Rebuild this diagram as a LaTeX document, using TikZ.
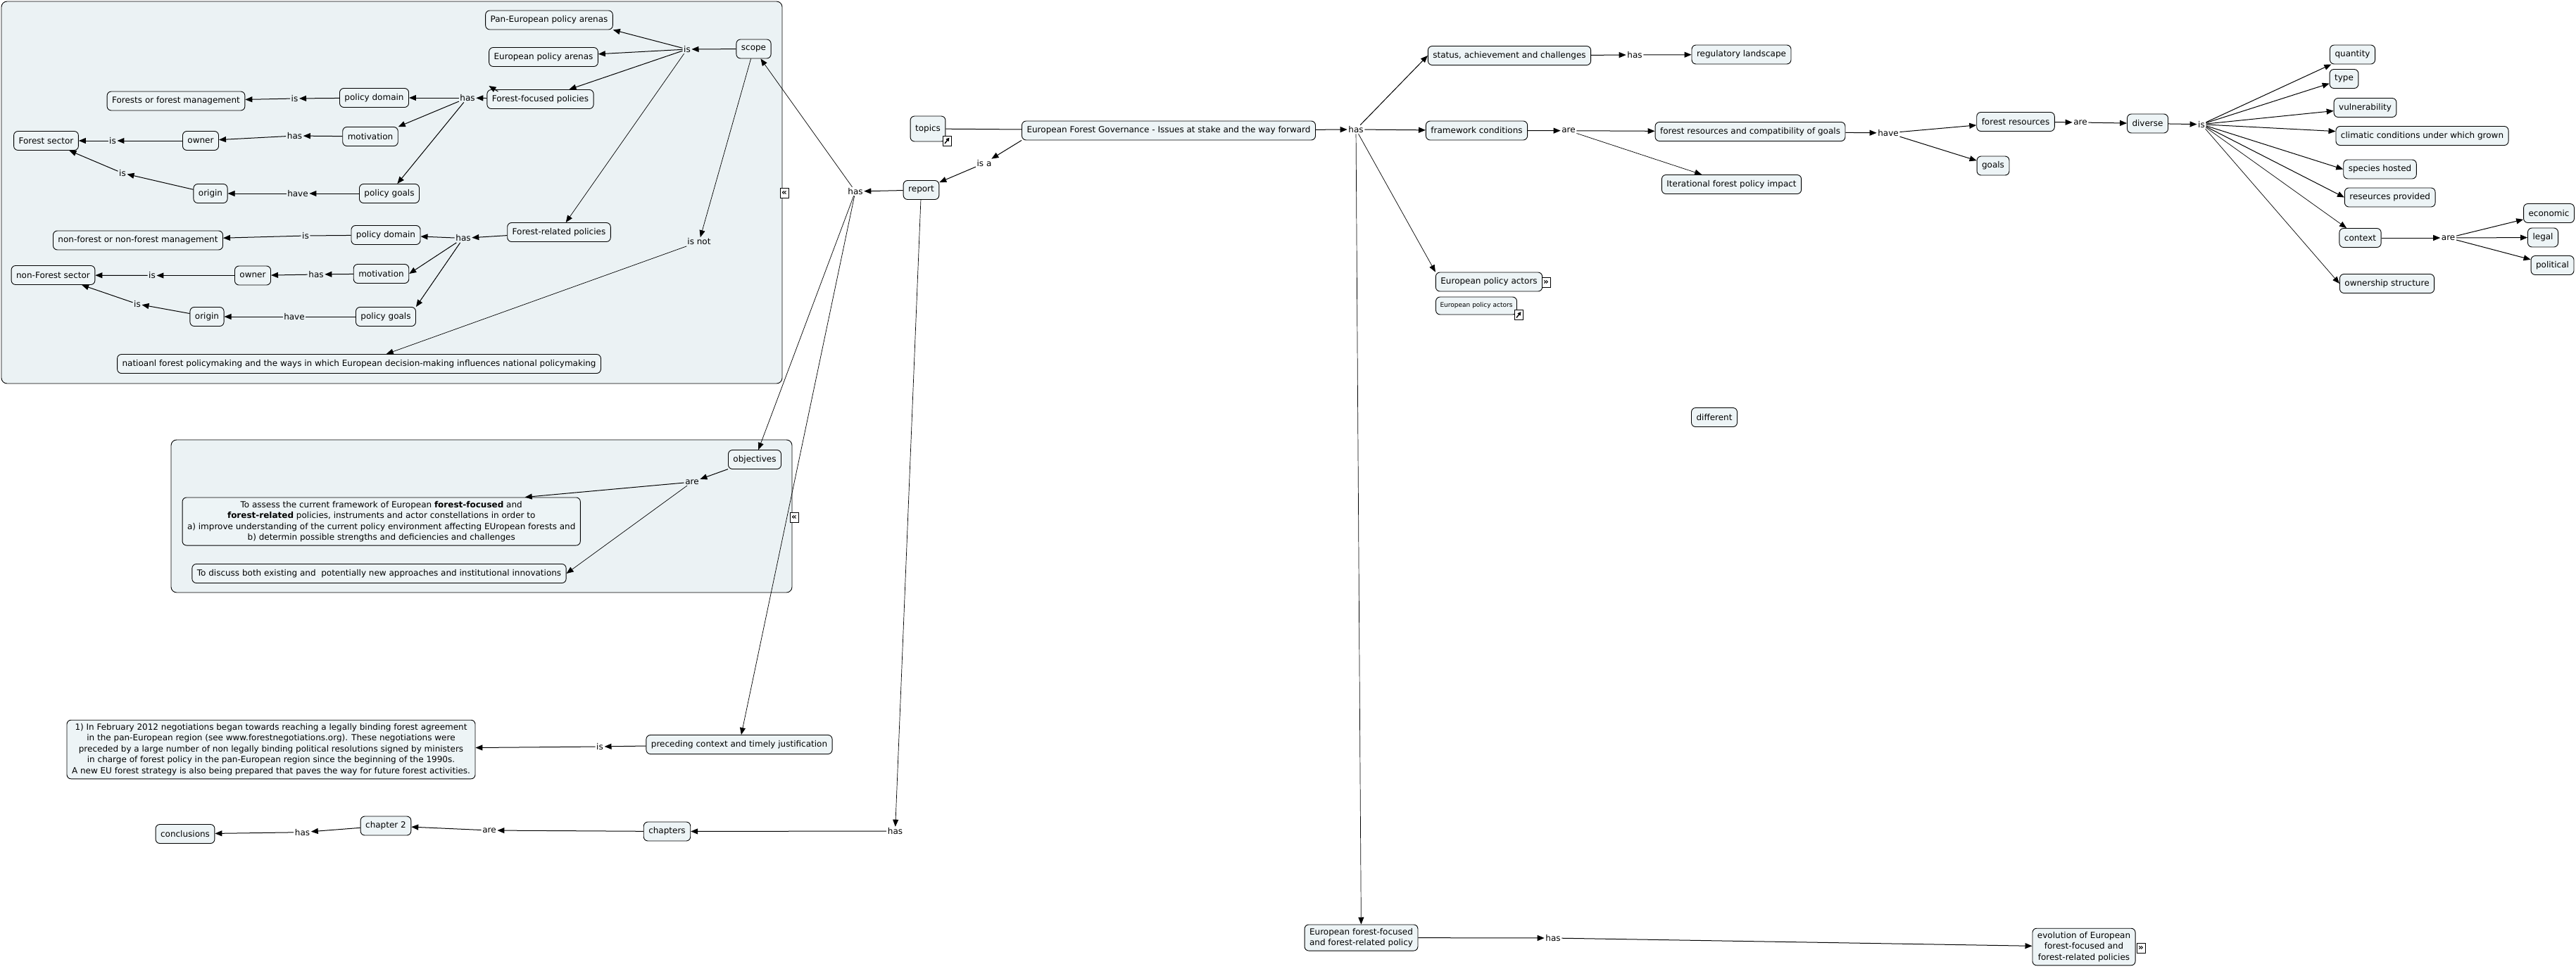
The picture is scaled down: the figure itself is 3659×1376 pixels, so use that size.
\documentclass[tikz,border=0pt]{standalone}
\usepackage{fontspec}
\setmainfont{DejaVu Sans}
\usetikzlibrary{arrows.meta,calc}
\definecolor{boxfill}{HTML}{EDF4F6}
\definecolor{grpfill}{HTML}{EBF2F4}
\begin{document}
\begin{tikzpicture}[x=1pt,y=-1pt,
  every node/.style={font=\fontsize{12}{15.5}\selectfont},
  cbox/.style={draw, fill=boxfill, rounded corners=6pt, line width=0.9pt, inner xsep=7pt, inner ysep=0pt, minimum height=27pt},
  mbox/.style={cbox, align=center, inner ysep=5pt},
  lnk/.style={inner sep=1.5pt},
  arr/.style={line width=1pt, -{Triangle[length=10pt,width=8pt]}},
  tarr/.style={line width=0.7pt, -{Triangle[length=10pt,width=8pt]}},
  ln/.style={line width=1pt},
  icon/.style={draw, fill=white, line width=0.8pt, inner sep=0pt, minimum width=12pt, minimum height=14pt, font=\fontsize{12}{12}\selectfont\bfseries},
  grp/.style={draw, fill=grpfill, rounded corners=8pt, line width=0.9pt}
]
\useasboundingbox (0,0) rectangle (3659,1376);

% group frames
\path[grp] (2,2) rectangle (1111,545);
\path[grp] (243,625) rectangle (1125,842);

% ---------- frame 1 ----------
\node[cbox] (pan) at (780,28.5) {Pan-European policy arenas};
\node[cbox] (epa) at (772,81) {European policy arenas};
\node[cbox] (scope) at (1070.5,69.5) {scope};
\node[cbox] (ffp) at (767.5,141) {Forest-focused policies};
\node[cbox] (pd1) at (531.5,139) {policy domain};
\node[cbox] (ffm) at (250,143.5) {Forests or forest management};
\node[cbox] (mot1) at (526,194) {motivation};
\node[cbox] (own1) at (285,200) {owner};
\node[cbox] (fs) at (65.5,200) {Forest sector};
\node[cbox] (pg1) at (553,275) {policy goals};
\node[cbox] (ori1) at (299,275) {origin};
\node[cbox] (frp) at (794,330) {Forest-related policies};
\node[cbox] (pd2) at (548,334) {policy domain};
\node[cbox] (nfm) at (196,341.5) {non-forest or non-forest management};
\node[cbox] (mot2) at (541.5,389) {motivation};
\node[cbox] (own2) at (359,391.5) {owner};
\node[cbox] (nfs) at (75.5,391) {non-Forest sector};
\node[cbox] (pg2) at (548,450) {policy goals};
\node[cbox] (ori2) at (294,450) {origin};
\node[cbox] (nat) at (510,517) {natioanl forest policymaking and the ways in which European decision-making influences national policymaking};

\node[lnk] (lis1) at (976,70) {is};
\node[lnk] (lhas1) at (664,139) {has};
\node[lnk] (lis2) at (418.5,140) {is};
\node[lnk] (lhas2) at (418.5,193) {has};
\node[lnk] (lis3) at (160,200) {is};
\node[lnk] (lhave1) at (423,275) {have};
\node[lnk] (lis4) at (174,246) {is};
\node[lnk] (lhas3) at (658,338.5) {has};
\node[lnk] (lis5) at (434,335) {is};
\node[lnk] (lhas4) at (449,390) {has};
\node[lnk] (lis6) at (216,391.5) {is};
\node[lnk] (lhave2) at (418,450) {have};
\node[lnk] (lis7) at (195,432) {is};
\node[lnk] (lisnot) at (993,343.5) {is not};

% ---------- frame 2 ----------
\node[cbox] (obj) at (1072,653) {objectives};
\node[lnk] (lare4) at (983,685) {are};
\node[mbox] (assess) at (541.7,741) {To assess the current framework of European \textbf{forest-focused} and\\\textbf{forest-related} policies, instruments and actor constellations in order to\\a) improve understanding of the current policy environment affecting EUropean forests and\\b) determin possible strengths and deficiencies and challenges};
\node[cbox] (discuss) at (538.5,815) {To discuss both existing and\ \ potentially new approaches and institutional innovations};

% ---------- centre ----------
\node[cbox, minimum height=36pt] (topics) at (1318,183) {topics};
\node[cbox] (efg) at (1660,185.5) {European Forest Governance - Issues at stake and the way forward};
\node[lnk] (lisa) at (1398,232) {is a};
\node[cbox] (report) at (1308.5,270) {report};
\node[lnk] (lhasM) at (1215,272) {has};
\node[lnk] (lhasR) at (1926,184) {has};

\node[cbox] (status) at (2144,79) {status, achievement and challenges};
\node[lnk] (lhas5) at (2322,78) {has};
\node[cbox] (reg) at (2473.5,77.5) {regulatory landscape};
\node[cbox] (fc) at (2097.5,185.5) {framework conditions};
\node[lnk] (lare1) at (2228,185.7) {are};
\node[cbox] (frc) at (2486,187) {forest resources and compatibility of goals};
\node[cbox] (iter) at (2459.5,262) {Iterational forest policy impact};
\node[lnk] (lhave3) at (2682,189) {have};
\node[cbox] (fr) at (2863,173) {forest resources};
\node[cbox] (goals) at (2831,235.5) {goals};
\node[lnk] (lare2) at (2955,174) {are};
\node[cbox] (div) at (3050.5,175.5) {diverse};
\node[lnk] (lis8) at (3127,176.7) {is};
\node[cbox] (quant) at (3341.5,77.5) {quantity};
\node[cbox] (type) at (3329.5,112) {type};
\node[cbox] (vuln) at (3359.5,153) {vulnerability};
\node[cbox] (clim) at (3440.5,193) {climatic conditions under which grown};
\node[cbox] (spec) at (3380.5,240.5) {species hosted};
\node[cbox] (res) at (3394.7,280.5) {reseurces provided};
\node[cbox] (ctx) at (3352.5,338) {context};
\node[lnk] (lare3) at (3477.6,338) {are};
\node[cbox] (econ) at (3620.5,303) {economic};
\node[cbox] (legal) at (3612,337.5) {legal};
\node[cbox] (pol) at (3625.5,377) {political};
\node[cbox] (own) at (3390.5,403) {ownership structure};

\node[cbox] (epact) at (2115,400.5) {European policy actors};
\node[cbox, font=\fontsize{9}{11}\selectfont, minimum height=25pt, inner xsep=6pt] (epact2) at (2097,434.5) {European policy actors};
\node[cbox] (diff) at (2435,593) {different};

\node[mbox] (effp) at (1933.5,1332.5) {European forest-focused\\and forest-related policy};
\node[lnk] (lhas6) at (2206,1333) {has};
\node[mbox] (evo) at (2960,1345.5) {evolution of European\\forest-focused and\\forest-related policies};

% ---------- bottom left ----------
\node[mbox] (feb) at (385,1065) {1) In February 2012 negotiations began towards reaching a legally binding forest agreement\\in the pan-European region (see www.forestnegotiations.org). These negotiations were\\preceded by a large number of non legally binding political resolutions signed by ministers\\in charge of forest policy in the pan-European region since the beginning of the 1990s.\\A new EU forest strategy is also being prepared that paves the way for future forest activities.};
\node[lnk] (lis9) at (852,1061) {is};
\node[cbox] (prec) at (1050,1058) {preceding context and timely justification};
\node[lnk] (lhasB) at (1271.5,1181) {has};
\node[cbox] (chap) at (947.5,1181.5) {chapters};
\node[lnk] (lare5) at (695,1180) {are};
\node[cbox] (ch2) at (548,1173.5) {chapter 2};
\node[lnk] (lhas7) at (429.5,1182.7) {has};
\node[cbox] (concl) at (263,1185) {conclusions};

% ---------- icons ----------
\node[icon] (ic1) at (1114,274) {«};
\node[icon] (ic2) at (1128,735) {«};
\node[icon] (ic3) at (2196,401.5) {»};
\node[icon] (ic4) at (3041,1347) {»};
\node[icon] (ic5) at (1345,200) {};
\node[icon] (ic6) at (2157,447.5) {};
\draw[line width=1.4pt, -{Triangle[length=5pt,width=5pt]}] ([xshift=-3pt,yshift=-4pt]ic5.center) -- ([xshift=3.5pt,yshift=4.5pt]ic5.center);
\draw[line width=1.4pt, -{Triangle[length=5pt,width=5pt]}] ([xshift=-3pt,yshift=-4pt]ic6.center) -- ([xshift=3.5pt,yshift=4.5pt]ic6.center);

% ---------- connectors: frame 1 ----------
\draw[arr] (scope) -- (lis1);
\draw[arr] (lis1) -- (pan.south east);
\draw[arr] (lis1) -- (epa);
\draw[arr] (lis1) -- (ffp);
\draw[tarr] (lis1) -- (frp);
\draw[arr] (ffp) -- (lhas1);
\draw[arr] ($(ffp.north west)+(16,3)$) -- ($(ffp.north west)+(3,-5)$);
\draw[arr] (lhas1) -- (pd1);
\draw[arr] (lhas1) -- (mot1.north east);
\draw[arr] (lhas1) -- (pg1);
\draw[arr] (pd1) -- (lis2);
\draw[arr] (lis2) -- (ffm);
\draw[arr] (mot1) -- (lhas2);
\draw[arr] (lhas2) -- (own1);
\draw[arr] (own1) -- (lis3);
\draw[arr] (lis3) -- (fs);
\draw[arr] (pg1) -- (lhave1);
\draw[arr] (lhave1) -- (ori1);
\draw[arr] (ori1) -- (lis4);
\draw[arr] (lis4) -- (fs);
\draw[arr] (frp) -- (lhas3);
\draw[arr] (lhas3) -- (pd2);
\draw[arr] (lhas3) -- (mot2.east);
\draw[arr] (lhas3) -- (pg2.north east);
\draw[ln] (pd2) -- (lis5);
\draw[arr] (lis5) -- (nfm);
\draw[arr] (mot2) -- (lhas4);
\draw[arr] (lhas4) -- (own2);
\draw[arr] (own2) -- (lis6);
\draw[arr] (lis6) -- (nfs);
\draw[ln] (pg2) -- (lhave2);
\draw[arr] (lhave2) -- (ori2);
\draw[arr] (ori2) -- (lis7);
\draw[arr] (lis7) -- (nfs);
\draw[tarr] (scope) -- (lisnot);
\draw[tarr] (lisnot) -- (nat);

% ---------- connectors: centre ----------
\draw[ln] (topics) -- (efg);
\draw[arr] (efg.south west) -- (lisa);
\draw[arr] (lisa) -- (report);
\draw[arr] (report) -- (lhasM);
\draw[tarr] (lhasM) -- (scope);
\draw[tarr] (lhasM) -- (obj);
\draw[tarr] (lhasM) -- (prec);
\draw[tarr] (report) -- (lhasB);
\draw[arr] (lhasB) -- (chap);
\draw[arr] (chap) -- (lare5);
\draw[arr] (lare5) -- (ch2);
\draw[arr] (ch2) -- (lhas7);
\draw[arr] (lhas7) -- (concl);
\draw[arr] (prec) -- (lis9);
\draw[arr] (lis9) -- (feb);
\draw[arr] (obj) -- (lare4);
\draw[arr] (lare4) -- ($(assess.north)+(204,0)$);
\draw[tarr] (lare4) -- (discuss.east);

\draw[arr] (efg) -- (lhasR);
\draw[arr] (lhasR) -- (status.west);
\draw[arr] (lhasR) -- (fc);
\draw[tarr] (lhasR) -- (epact.north west);
\draw[tarr] (lhasR) -- (effp);
\draw[arr] (status) -- (lhas5);
\draw[arr] (lhas5) -- (reg);
\draw[arr] (fc) -- (lare1);
\draw[arr] (lare1) -- (frc);
\draw[tarr] (lare1) -- (iter);
\draw[arr] (frc) -- (lhave3);
\draw[arr] (lhave3) -- (fr);
\draw[arr] (lhave3) -- (goals);
\draw[arr] (fr) -- (lare2);
\draw[arr] (lare2) -- (div);
\draw[arr] (div) -- (lis8);
\draw[arr] (lis8) -- (quant);
\draw[arr] (lis8) -- (type);
\draw[arr] (lis8) -- (vuln);
\draw[arr] (lis8) -- (clim);
\draw[arr] (lis8) -- (spec.west);
\draw[arr] (lis8) -- (res.west);
\draw[tarr] (lis8) -- (ctx);
\draw[tarr] (lis8) -- (own.west);
\draw[arr] (ctx) -- (lare3);
\draw[arr] (lare3) -- (econ);
\draw[arr] (lare3) -- (legal);
\draw[arr] (lare3) -- (pol);
\draw[arr] (effp) -- (lhas6);
\draw[arr] (lhas6) -- (evo);
\end{tikzpicture}
\end{document}
